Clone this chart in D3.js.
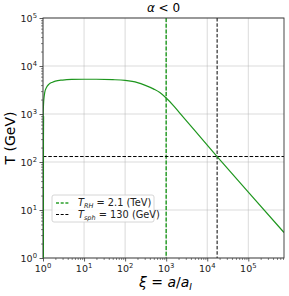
<!DOCTYPE html>
<html><head><meta charset="utf-8">
<script src="https://cdn.jsdelivr.net/npm/d3@7"></script>
<style>body{margin:0;background:#fff}svg{display:block}text{font-family:"DejaVu Sans",sans-serif}</style>
</head><body>
<script>
const xi = [1.0004, 1.002, 1.01, 1.03, 1.06, 1.1, 1.2, 1.4, 1.7, 2, 3, 5, 10, 20, 50, 100, 200, 300, 500, 700, 1000, 1500, 2000, 5000, 1e4, 1.74e4, 1e5, 7.4e5];
const T  = [0.3, 300, 900, 1600, 2200, 2800, 3500, 4200, 4600, 4850, 5100, 5250, 5300, 5300, 5200, 5000, 4500, 4000, 3300, 2800, 2150, 1500, 1120, 450, 225, 130, 23.5, 3.4];
const xTicks = [1, 10, 100, 1000, 1e4, 1e5];
const yTicks = [1, 10, 100, 1000, 1e4, 1e5];
const xTickExp = ["0","1","2","3","4","5"];
const yTickExp = ["0","1","2","3","4","5"];
const xiRH = 1000, xiSph = 1.74e4, Tsph = 130;
const legendLabels = [["T","RH"," = 2.1 (TeV)"],["T","sph"," = 130 (GeV)"]];
const legendColors = ["#2ca02c","#000"];

const W=289,H=296, m={l:43,t:18,r:284,b:258};
const svg=d3.select("body").append("svg").attr("width",W).attr("height",H);
const x=d3.scaleLog().domain([1,7.4e5]).range([m.l,m.r]);
const y=d3.scaleLog().domain([1,1e5]).range([m.b,m.t]);

svg.append("clipPath").attr("id","c").append("rect").attr("x",m.l).attr("y",m.t).attr("width",m.r-m.l).attr("height",m.b-m.t);

// grid
const g=svg.append("g");
g.selectAll(".gx").data(xTicks).join("line").attr("x1",d=>x(d)).attr("x2",d=>x(d)).attr("y1",m.t).attr("y2",m.b).attr("stroke","#b0b0b0").attr("stroke-opacity",0.6).attr("stroke-width",0.8);
g.selectAll(".gy").data(yTicks).join("line").attr("y1",d=>y(d)).attr("y2",d=>y(d)).attr("x1",m.l).attr("x2",m.r).attr("stroke","#b0b0b0").attr("stroke-opacity",0.6).attr("stroke-width",0.8);

const pl=svg.append("g").attr("clip-path","url(#c)");
pl.append("line").attr("x1",x(xiRH)).attr("x2",x(xiRH)).attr("y1",m.t).attr("y2",m.b).attr("stroke","#2ca02c").attr("stroke-width",1.5).attr("stroke-dasharray","4,1.7");
pl.append("line").attr("x1",x(xiSph)).attr("x2",x(xiSph)).attr("y1",m.t).attr("y2",m.b).attr("stroke","#000").attr("stroke-width",1).attr("stroke-dasharray","3.5,1.8");
pl.append("line").attr("y1",y(Tsph)).attr("y2",y(Tsph)).attr("x1",m.l).attr("x2",m.r).attr("stroke","#000").attr("stroke-width",1).attr("stroke-dasharray","3.5,1.8");
pl.append("path").datum(xi.map((d,i)=>[d,T[i]])).attr("d",d3.line().x(d=>x(d[0])).y(d=>y(Math.max(d[1],0.5))).curve(d3.curveMonotoneX)).attr("fill","none").attr("stroke","#1e961e").attr("stroke-width",1.2);

// axes
const xa=d3.axisBottom(x).tickValues(xTicks).tickFormat("").tickSize(3.5);
const ya=d3.axisLeft(y).tickValues(yTicks).tickFormat("").tickSize(3.5);
const minorX=[];for(let e=0;e<6;e++)for(let k=2;k<10;k++){const v=k*10**e;if(v<=7.4e5)minorX.push(v);}
const minorY=[];for(let e=0;e<5;e++)for(let k=2;k<10;k++)minorY.push(k*10**e);
svg.append("g").attr("transform",`translate(0,${m.b})`).call(d3.axisBottom(x).tickValues(minorX).tickFormat("").tickSize(2)).call(s=>s.select(".domain").remove()).selectAll("line").attr("stroke","#333").attr("stroke-width",0.6);
svg.append("g").attr("transform",`translate(${m.l},0)`).call(d3.axisLeft(y).tickValues(minorY).tickFormat("").tickSize(2)).call(s=>s.select(".domain").remove()).selectAll("line").attr("stroke","#333").attr("stroke-width",0.6);
svg.append("g").attr("transform",`translate(0,${m.b})`).call(xa).call(s=>s.select(".domain").remove()).selectAll("line").attr("stroke","#333").attr("stroke-width",0.8);
svg.append("g").attr("transform",`translate(${m.l},0)`).call(ya).call(s=>s.select(".domain").remove()).selectAll("line").attr("stroke","#333").attr("stroke-width",0.8);
svg.append("rect").attr("x",m.l).attr("y",m.t).attr("width",m.r-m.l).attr("height",m.b-m.t).attr("fill","none").attr("stroke","#333").attr("stroke-width",0.9);
// curve edge segment over spine (visible green along left edge as in reference)
svg.append("path").datum(xi.slice(0,3).map((d,i)=>[d,T[i]])).attr("d",d3.line().x(d=>x(d[0])+0.5).y(d=>y(Math.max(d[1],1)))).attr("fill","none").attr("stroke","#1e7a1e").attr("stroke-width",1);

// tick labels
xTicks.forEach((d,i)=>{
  const t=svg.append("text").attr("x",x(d)).attr("y",m.b+14).attr("text-anchor","middle").attr("font-size",9.5).attr("fill","#222");
  t.append("tspan").text("10");
  t.append("tspan").attr("dy",-4).attr("font-size",6.8).text(xTickExp[i]);
});
yTicks.forEach((d,i)=>{
  const t=svg.append("text").attr("x",m.l-6).attr("y",y(d)+3.5).attr("text-anchor","end").attr("font-size",9.5).attr("fill","#222");
  t.append("tspan").text("10");
  t.append("tspan").attr("dy",-4).attr("font-size",6.8).text(yTickExp[i]);
});

// labels
svg.append("text").attr("x",(m.l+m.r)/2).attr("y",12).attr("text-anchor","middle").attr("font-size",12).attr("fill","#000")
  .call(t=>{t.append("tspan").attr("font-style","italic").text("α");t.append("tspan").text(" < 0");});
const xl=svg.append("text").attr("x",(m.l+m.r)/2+2).attr("y",287).attr("text-anchor","middle").attr("font-size",14).attr("fill","#000");
xl.append("tspan").attr("font-style","italic").text("ξ");
xl.append("tspan").text(" = ");
xl.append("tspan").attr("font-style","italic").text("a");
xl.append("tspan").text("/");
xl.append("tspan").attr("font-style","italic").text("a");
xl.append("tspan").attr("font-style","italic").attr("font-size",9).attr("dy",3).text("I");
svg.append("text").attr("transform",`translate(15,${(m.t+m.b)/2}) rotate(-90)`).attr("text-anchor","middle").attr("font-size",14).attr("fill","#000").text("T (GeV)");

// legend
const lg=svg.append("g");
lg.append("rect").attr("x",52).attr("y",195).attr("width",102).attr("height",27).attr("rx",2).attr("fill","#fff").attr("fill-opacity",0.85).attr("stroke","#ccc").attr("stroke-width",0.8);
legendLabels.forEach((L,i)=>{
  const yy=203+i*11.5;
  lg.append("line").attr("x1",56).attr("x2",69).attr("y1",yy).attr("y2",yy).attr("stroke",legendColors[i]).attr("stroke-width",i?1:1.5).attr("stroke-dasharray","3,1.7");
  const t=lg.append("text").attr("x",78).attr("y",yy+3.3).attr("font-size",9.8).attr("fill","#222");
  t.append("tspan").attr("font-style","italic").text(L[0]);
  t.append("tspan").attr("font-style","italic").attr("font-size",6.5).attr("dy",2).text(L[1]);
  t.append("tspan").attr("dy",-2).text(L[2]);
});
</script>
</body></html>
